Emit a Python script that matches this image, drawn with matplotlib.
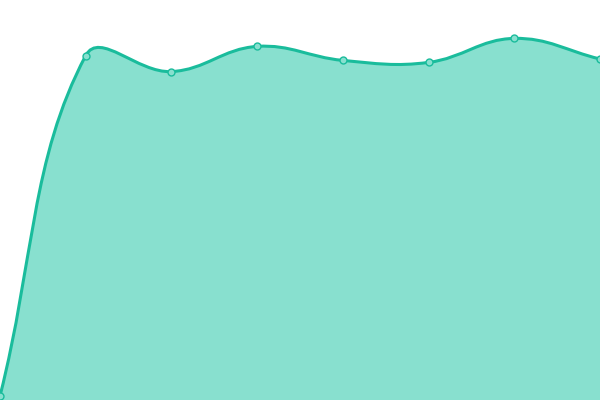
import matplotlib
matplotlib.use('Agg')
import matplotlib.pyplot as plt
import numpy as np
from matplotlib.path import Path
from matplotlib.patches import PathPatch

# values (0..100 scale)
labels = ['1', '2', '3', '4', '5', '6', '7', '8']
values = [1, 86.1, 82.1, 88.4, 84.9, 84.4, 90.4, 85.25]

line_color = '#1abc9c'
fill_color = '#88e0cf'
tension = 0.4

fig = plt.figure(figsize=(6, 4), dpi=100)
ax = fig.add_axes([0, 0, 1, 1])
ax.set_xlim(0, len(values) - 1)
ax.set_ylim(0, 100)
ax.axis('off')

# smooth curve, control points worked out in pixel space
xs = np.arange(len(values), dtype=float)
pts = ax.transData.transform(np.column_stack([xs, values]))
n = len(pts)
ctrl_prev = []
ctrl_next = []
for i in range(n):
    p0 = pts[i - 1] if i > 0 else pts[i]
    p1 = pts[i]
    p2 = pts[i + 1] if i < n - 1 else pts[i]
    d01 = np.hypot(*(p1 - p0))
    d12 = np.hypot(*(p2 - p1))
    tot = d01 + d12
    s01 = d01 / tot if tot else 0
    s12 = d12 / tot if tot else 0
    fa = tension * s01
    fb = tension * s12
    ctrl_prev.append(p1 - fa * (p2 - p0))
    ctrl_next.append(p1 + fb * (p2 - p0))

verts = [pts[0]]
codes = [Path.MOVETO]
for i in range(n - 1):
    verts += [ctrl_next[i], ctrl_prev[i + 1], pts[i + 1]]
    codes += [Path.CURVE4] * 3
inv = ax.transData.inverted()
verts = inv.transform(np.array(verts))

line_path = Path(verts, codes)
fill_verts = list(verts) + [(xs[-1], 0), (xs[0], 0), verts[0]]
fill_codes = codes + [Path.LINETO, Path.LINETO, Path.CLOSEPOLY]
ax.add_patch(PathPatch(Path(fill_verts, fill_codes), facecolor=fill_color,
                       edgecolor='none', zorder=1))
ax.add_patch(PathPatch(line_path, facecolor='none', edgecolor=line_color,
                       lw=2.2, zorder=2, clip_on=False))
ax.plot(xs, values, 'o', ms=5, mfc=fill_color, mec=line_color, mew=1,
        zorder=3, clip_on=False)

fig.savefig('out.png', dpi=100)
